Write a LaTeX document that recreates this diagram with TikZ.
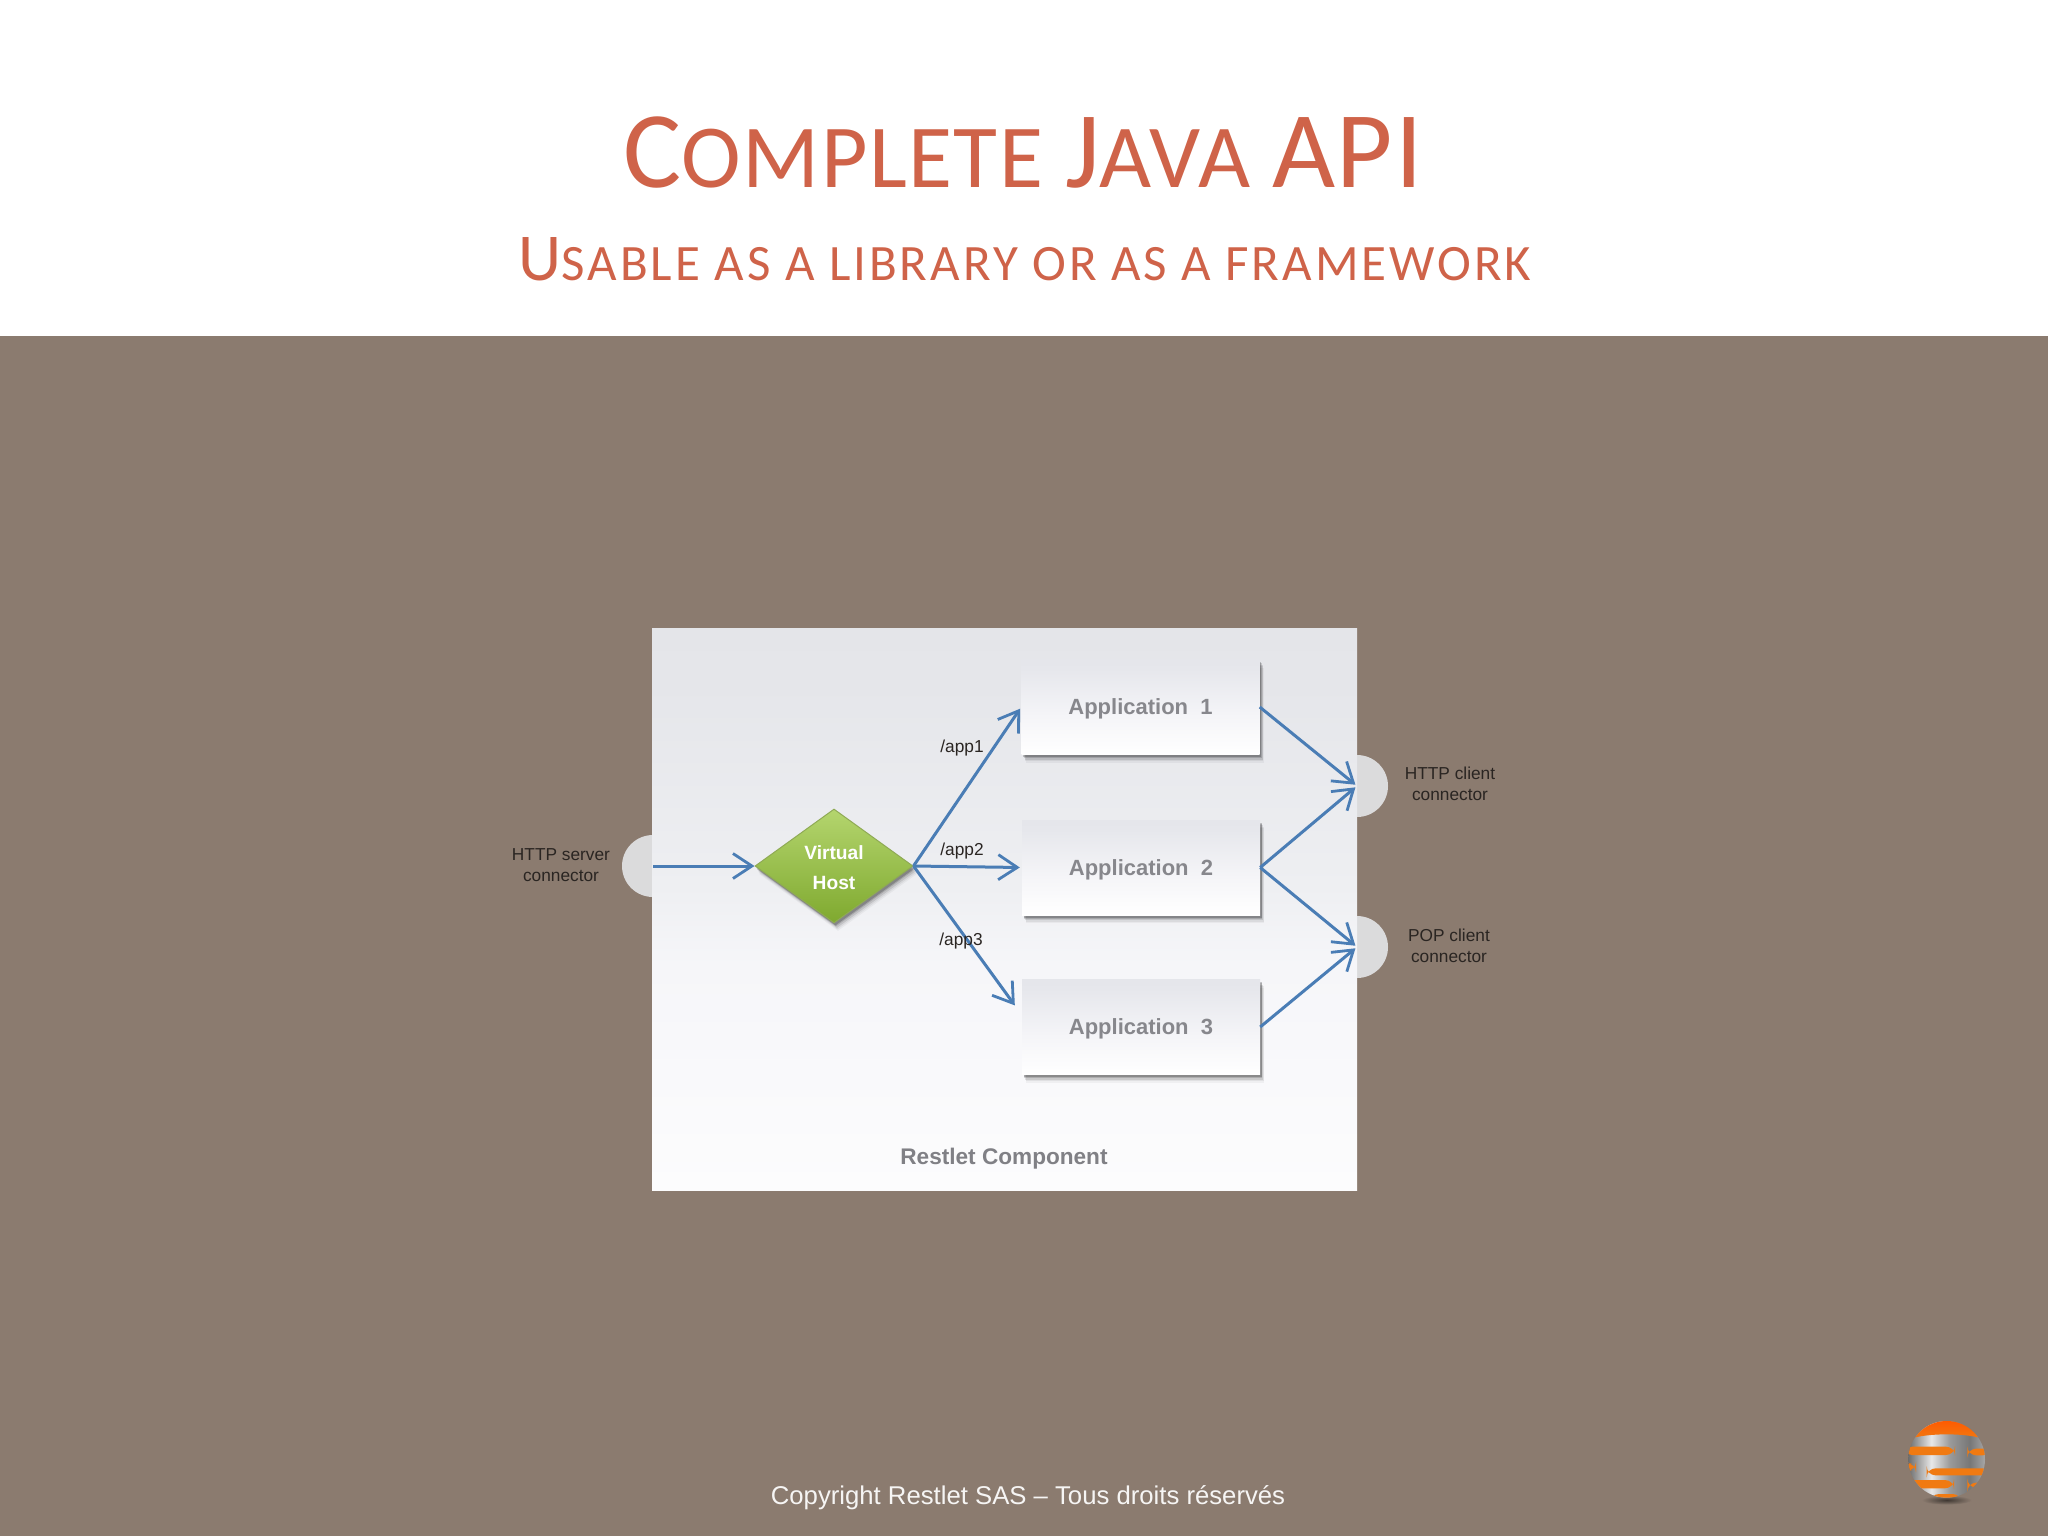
\documentclass[tikz,border=0pt]{standalone}
\usepackage{fontspec}
\setmainfont{Liberation Sans}
\newfontfamily\calibt[LetterSpace=1.7]{Carlito}
\newfontfamily\calibs[LetterSpace=5.8]{Carlito}
\usetikzlibrary{arrows.meta,shapes.geometric,shadows}
\definecolor{bgbrown}{HTML}{8B7B6F}
\definecolor{titlered}{HTML}{CF6349}
\definecolor{linkblue}{HTML}{4A7DB5}
\definecolor{portgrey}{HTML}{DBDBDC}
\definecolor{apptext}{HTML}{87878C}
\definecolor{labeltext}{HTML}{2A2522}
\definecolor{panela}{HTML}{E0E1E5}
\definecolor{panelb}{HTML}{E5E6EA}
\definecolor{panelc}{HTML}{EEEFF2}
\definecolor{paneld}{HTML}{F6F6F9}
\definecolor{panele}{HTML}{FCFCFD}
\definecolor{appa}{HTML}{DEDFE4}
\definecolor{appb}{HTML}{E6E7EC}
\definecolor{appc}{HTML}{F5F5F8}
\definecolor{vhtop}{HTML}{B4D56E}
\definecolor{vhbottom}{HTML}{7FA92F}
\definecolor{vhedge}{HTML}{8FAA55}
\definecolor{logoorange}{HTML}{F07A12}
\definecolor{sa}{HTML}{8A8A8A}
\definecolor{sb}{HTML}{6D6D6D}
\definecolor{sc}{HTML}{E8E8E8}
\definecolor{sd}{HTML}{9A9A9A}
\definecolor{se}{HTML}{777777}
\definecolor{sf}{HTML}{BDBDBD}
\definecolor{sg}{HTML}{666666}
\pgfdeclareverticalshading{panelshade}{100bp}{
  color(0bp)=(white); color(25bp)=(panele); color(45bp)=(paneld); color(52bp)=(panelc);
  color(70bp)=(panelb); color(100bp)=(panela)}
\pgfdeclareverticalshading{appshade}{100bp}{
  color(0bp)=(white); color(25bp)=(white); color(45bp)=(appc);
  color(70bp)=(appb); color(100bp)=(appa)}
\pgfdeclarehorizontalshading{silver}{100bp}{
  color(0bp)=(sa); color(25bp)=(sb); color(40bp)=(sc); color(52bp)=(sd);
  color(65bp)=(se); color(80bp)=(sf); color(100bp)=(sg)}
\tikzset{
  panel/.style={rectangle,draw=none,minimum width=705pt,minimum height=562pt,inner sep=0pt,shade,shading=panelshade},
  port/.style={circle,fill=portgrey,draw=none,minimum size=62pt,inner sep=0pt},
  softshadow/.style={
    general shadow={fill=black,opacity=.04,shadow xshift=4pt,shadow yshift=-8pt},
    general shadow={fill=black,opacity=.06,shadow xshift=3.5pt,shadow yshift=-6.5pt},
    general shadow={fill=black,opacity=.10,shadow xshift=3pt,shadow yshift=-5pt},
    general shadow={fill=black,opacity=.14,shadow xshift=2pt,shadow yshift=-3.5pt},
    general shadow={fill=black,opacity=.20,shadow xshift=1.5pt,shadow yshift=-2.5pt}},
  appbox/.style={rectangle,minimum width=238pt,minimum height=95pt,inner sep=0pt,softshadow,shade,shading=appshade,
    text depth=0pt,font=\fontsize{22}{26}\selectfont\bfseries,text=apptext},
  vhost/.style={diamond,aspect=1.386,minimum width=158pt,minimum height=114pt,inner sep=0pt,softshadow,
    top color=vhtop,bottom color=vhbottom,draw=vhedge,line width=1pt,text=white,align=center,
    font=\fontsize{19.2}{30}\selectfont\bfseries},
  link/.style={draw=linkblue,line width=3pt,shorten >=2pt,-{Straight Barb[length=19pt,width=25pt,line width=2.8pt]}},
  label/.style={text=labeltext,align=center,font=\fontsize{17.3}{21}\selectfont,inner sep=0pt},
  titletext/.style={text=titlered,anchor=base,inner sep=0pt},
  logoslot/.style={fill=logoorange,rounded corners=9pt},
}
\newcommand{\tbig}{\fontsize{109}{120}\selectfont}
\newcommand{\tsm}{\fontsize{90}{120}\selectfont}
\newcommand{\sbig}{\fontsize{67}{80}\selectfont}
\newcommand{\ssm}{\fontsize{51}{80}\selectfont}
\begin{document}
\begin{tikzpicture}[x=1pt,y=-1pt]
\useasboundingbox (0,0) rectangle (2048,1536);
\fill[white] (0,0) rectangle (2048,336);
\fill[bgbrown] (0,336) rectangle (2048,1536);
\node[titletext] (title) at (1023,187) {\calibt\tbig C\tsm OMPLETE \tbig J\tsm AVA \tbig API};
\node[titletext] (subtitle) at (1025,280) {\calibs\sbig U\ssm SABLE AS A LIBRARY OR AS A FRAMEWORK};
% ports under the panel
\node[port] (srv) at (653,866) {};
\node[port] (httpc) at (1357,786) {};
\node[port] (popc) at (1357,947) {};
\node[panel] (comp) at (1004.5,909) {};
\node[vhost] (vh) at (834,866) {\raisebox{-2.5pt}[\height][\depth]{\begin{tabular}{@{}c@{}}Virtual\\Host\end{tabular}}};
\node[appbox] (app1) at (1140.5,707) {Application\ \ 1};
\node[appbox] (app2) at (1141,867.5) {Application\ \ 2};
\node[appbox] (app3) at (1141,1027) {Application\ \ 3};
\coordinate (app3in) at (1016,1007);
\draw[link,shorten >=0pt] (srv.center) -- (vh.west);
\draw[link] (vh.east) -- (app1.west);
\draw[link] (vh.east) -- (app2.west);
\draw[link] (vh.east) -- (app3in);
\draw[link] (app1.east) -- (httpc.center);
\draw[link] (app2.east) -- (httpc.center);
\draw[link] (app2.east) -- (popc.center);
\draw[link] (app3.east) -- (popc.center);
\node[label] (lsrv) at (561,865) {HTTP server\\connector};
\node[label] (lhttp) at (1450,784) {HTTP client\\connector};
\node[label] (lpop) at (1449,945.5) {POP client\\connector};
\node[label] (p1) at (962,748) {/app1};
\node[label] (p2) at (962,851.5) {/app2};
\node[label] (p3) at (961,941.5) {/app3};
\node[font=\fontsize{22.6}{28}\selectfont\bfseries,text=apptext!95!black,inner sep=0pt] (cname) at (1004,1158.5) {Restlet Component};
\node[text=white!92!bgbrown,font=\fontsize{25.7}{32}\selectfont,inner sep=0pt] (copy) at (1028,1497.5) {Copyright Restlet SAS – Tous droits réservés};
% logo
\begin{scope}[shift={(1880,1400)},x=0.3333pt,y=-0.3333pt]
  \shade[inner color=black!55!bgbrown,outer color=bgbrown] (200,300) ellipse (75 and 14);
  \begin{scope}
    \clip (200,178) circle (115);
    \shade[shading=silver] (85,60) rectangle (315,295);
    \shade[top color=orange!70!red,bottom color=logoorange] (85,60) -- (85,118) .. controls (140,98) and (260,98) .. (315,118) -- (315,60) -- cycle;
    \fill[logoslot] (70,140) rectangle (225,165);
    \fill[logoslot] (262,146) rectangle (335,166);
    \fill[logoslot] (70,190) rectangle (108,212);
    \fill[logoslot] (140,205) rectangle (335,226);
    \fill[logoslot] (80,240) rectangle (222,265);
    \fill[logoslot] (262,248) rectangle (330,263);
    \fill[logoslot] (150,282) rectangle (245,310);
  \end{scope}
\end{scope}
\end{tikzpicture}
\end{document}
